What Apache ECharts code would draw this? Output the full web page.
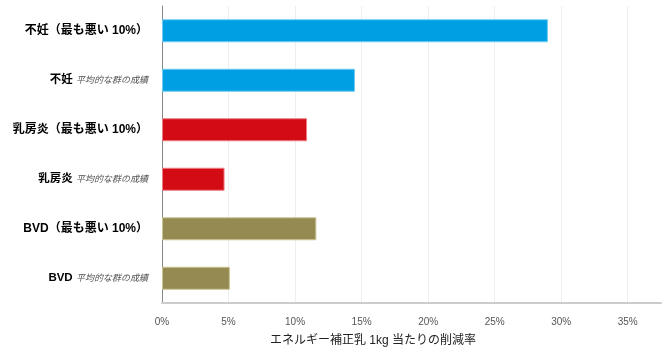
<!DOCTYPE html>
<html>
<head>
<meta charset="utf-8">
<script src="https://cdn.jsdelivr.net/npm/echarts@6/dist/echarts.min.js"></script>
<style>
  html, body { margin: 0; padding: 0; background: #ffffff; }
  #chart { width: 664px; height: 349px; }
</style>
</head>
<body>
<div id="chart"></div>
<script>
// Rows from top to bottom; the text after a space is the smaller italic note.
const categories = [
  '不妊（最も悪い 10%）',
  '不妊 平均的な群の成績',
  '乳房炎（最も悪い 10%）',
  '乳房炎 平均的な群の成績',
  'BVD（最も悪い 10%）',
  'BVD 平均的な群の成績'
];
// Reduction per kg of energy-corrected milk, in percent
const reductionPct = [29.0, 14.5, 10.9, 4.7, 11.6, 5.1];
const xTicks = [0, 5, 10, 15, 20, 25, 30, 35];
const axisTitle = 'エネルギー補正乳 1kg 当たりの削減率';

const fills = ['#009FE3', '#009FE3', '#D20B14', '#D20B14', '#948A52', '#948A52'];
const edges = ['#6CCBF2', '#6CCBF2', '#EE7C82', '#EE7C82', '#CBC495', '#CBC495'];

const chart = echarts.init(document.getElementById('chart'), null, { renderer: 'canvas' });

const fontStack = '"Liberation Sans", "Noto Sans CJK JP", sans-serif';

chart.setOption({
  animation: false,
  backgroundColor: '#ffffff',
  grid: { left: 162, right: 3, top: 6, bottom: 46, containLabel: false },
  xAxis: {
    type: 'value',
    min: 0,
    max: 37.5,
    interval: 5,
    axisLine: { show: true, lineStyle: { color: '#cccccc', width: 2 } },
    axisTick: { show: false },
    splitLine: { show: true, showMaxLine: false, showMinLine: false, lineStyle: { color: '#eeeeee', width: 1 } },
    axisLabel: {
      margin: 14,
      color: '#555555',
      fontSize: 10,
      fontFamily: fontStack,
      showMaxLabel: false,
      formatter: v => (xTicks.indexOf(v) >= 0 ? v + '%' : '')
    }
  },
  yAxis: {
    type: 'category',
    inverse: true,
    data: categories,
    axisLine: { show: true, lineStyle: { color: '#888888', width: 1 } },
    axisTick: { show: false },
    splitLine: { show: false },
    axisLabel: {
      margin: 14,
      formatter: value => {
        const i = value.indexOf(' 平均');
        if (i < 0) return '{main|' + value + '}';
        return '{head|' + value.slice(0, i) + '} {note|' + value.slice(i + 1) + '}';
      },
      rich: {
        main: { fontSize: 12, fontWeight: 'bold', color: '#000000', fontFamily: fontStack },
        head: { fontSize: 11.5, fontWeight: 'bold', color: '#000000', fontFamily: fontStack },
        note: { fontSize: 9, fontStyle: 'italic', color: '#555555', fontFamily: fontStack }
      }
    }
  },
  series: [{
    type: 'bar',
    data: reductionPct.map((v, i) => ({
      value: v,
      itemStyle: { color: fills[i], borderColor: edges[i], borderWidth: 1 }
    })),
    barWidth: 23
  }],
  graphic: [{
    type: 'text',
    left: 270,
    top: 335,
    style: {
      text: axisTitle,
      fontSize: 12,
      fill: '#222222',
      fontFamily: fontStack
    }
  }]
});
</script>
</body>
</html>
